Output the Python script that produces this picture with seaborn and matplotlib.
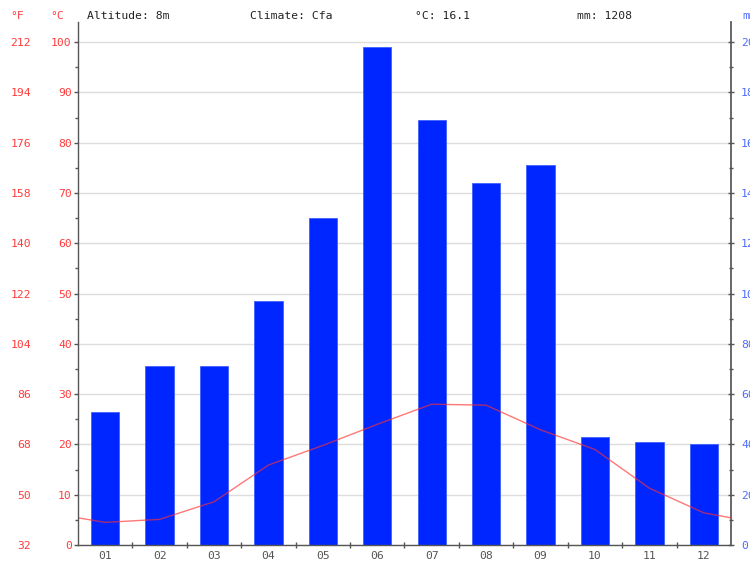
import numpy as np
import pandas as pd
import matplotlib
matplotlib.use("Agg")
import matplotlib.pyplot as plt
from matplotlib.ticker import MultipleLocator, FixedLocator
import seaborn as sns

sns.set_theme(style="white")
plt.rcParams["font.family"] = ["DejaVu Sans Mono", "DejaVu Sans"]

# climate data
MONTHS = ["01", "02", "03", "04", "05", "06", "07", "08", "09", "10", "11", "12"]
PRECIP_MM = [53, 71, 71, 97, 130, 198, 169, 144, 151, 43, 41, 40]
# temperature line: month centres plus the values at the left / right plot edges
TEMP_X = [-0.5, 0, 1, 2, 3, 4, 5, 6, 7, 8, 9, 10, 11, 11.5]
TEMP_C = [5.4, 4.5, 5.1, 8.6, 15.9, 19.8, 24.0, 28.0, 27.8, 22.9, 19.0, 11.3, 6.4, 5.4]
C_TICKS = [0, 10, 20, 30, 40, 50, 60, 70, 80, 90, 100]
F_TICKS = [32, 50, 68, 86, 104, 122, 140, 158, 176, 194, 212]
MM_TICKS = [0, 20, 40, 60, 80, 100, 120, 140, 160, 180, 200]
HEADER = ["Altitude: 8m", "Climate: Cfa", "°C: 16.1", "mm: 1208"]

RED = "#ff3b3b"
BLUE = "#4d6bff"
BAR = "#0026ff"
SPINE = "#555555"
FS = 8.2

W, H = 750, 562
fig = plt.figure(figsize=(W / 100, H / 100), dpi=100)
ax = fig.add_axes([78 / W, (H - 545) / H, (731 - 78) / W, (545 - 22) / H])
ax2 = ax.twinx()

# precipitation bars (mm axis, right)
bars = pd.DataFrame({"month": MONTHS, "mm": PRECIP_MM})
sns.barplot(data=bars, x="month", y="mm", ax=ax2, color=BAR, saturation=1,
            width=0.52, edgecolor="#4060ff", linewidth=0.6)
ax2.set_ylim(0, 208)
ax2.set_xlabel("")
ax2.set_ylabel("")
ax2.yaxis.set_major_locator(FixedLocator(MM_TICKS))
ax2.yaxis.set_minor_locator(MultipleLocator(10))
ax2.grid(axis="y", color="#dddddd", linewidth=1)
ax2.set_axisbelow(True)
for s in ["top", "left", "bottom"]:
    ax2.spines[s].set_visible(False)
ax2.spines["right"].set_color(SPINE)
ax2.tick_params(axis="y", which="major", direction="inout", length=4.5, width=1,
                color=SPINE, labelcolor=BLUE, labelsize=FS, pad=5)
ax2.tick_params(axis="y", which="minor", direction="inout", length=3.5, width=1,
                color=SPINE, right=True)

# temperature line (°C axis, left)
temp = pd.DataFrame({"x": TEMP_X, "c": TEMP_C})
sns.lineplot(data=temp, x="x", y="c", ax=ax, color="#ff3030", linewidth=1,
             alpha=0.65, sort=False)
ax.set_zorder(ax2.get_zorder() + 1)
ax.patch.set_visible(False)
ax.set_ylim(0, 104)
ax.set_xlim(-0.5, 11.5)
ax.set_xlabel("")
ax.set_ylabel("")
ax.yaxis.set_major_locator(FixedLocator(C_TICKS))
ax.yaxis.set_minor_locator(MultipleLocator(5))
ax.set_xticks(range(12), labels=MONTHS)
ax.xaxis.set_minor_locator(FixedLocator(np.arange(0.5, 11, 1)))
ax.grid(False)
for s in ["top", "right"]:
    ax.spines[s].set_visible(False)
for s in ["left", "bottom"]:
    ax.spines[s].set_color(SPINE)
    ax.spines[s].set_linewidth(1)
ax.tick_params(axis="y", which="major", direction="out", length=3, width=1,
               color=SPINE, labelcolor=RED, labelsize=FS, pad=1.5, left=True)
ax.tick_params(axis="y", which="minor", direction="out", length=2.5, width=1,
               color=SPINE, left=True)
ax.tick_params(axis="x", which="major", length=0, labelcolor="#555555",
               labelsize=FS, pad=4)
ax.tick_params(axis="x", which="minor", direction="inout", length=4, width=1,
               color=SPINE, bottom=True)

# °F scale, left of the °C labels
sec = ax.secondary_yaxis("left", functions=(lambda c: c * 9 / 5 + 32,
                                            lambda f: (f - 32) * 5 / 9))
sec.yaxis.set_major_locator(FixedLocator(F_TICKS))
sec.spines["left"].set_visible(False)
sec.tick_params(axis="y", length=0, labelcolor=RED, labelsize=FS, pad=34)
sec.yaxis.set_minor_locator(FixedLocator([]))

# header line
y_head = 1 - 16 / H
fig.text(10 / W, y_head, "°F", color=RED, fontsize=FS, va="center")
fig.text(50 / W, y_head, "°C", color=RED, fontsize=FS, va="center")
fig.text(742 / W, y_head, "mm", color=BLUE, fontsize=FS, va="center")
for x, t in zip([87, 250, 415, 577], HEADER):
    fig.text(x / W, y_head, t, color="#222222", fontsize=FS, va="center")

fig.savefig("out.png", dpi=100)
